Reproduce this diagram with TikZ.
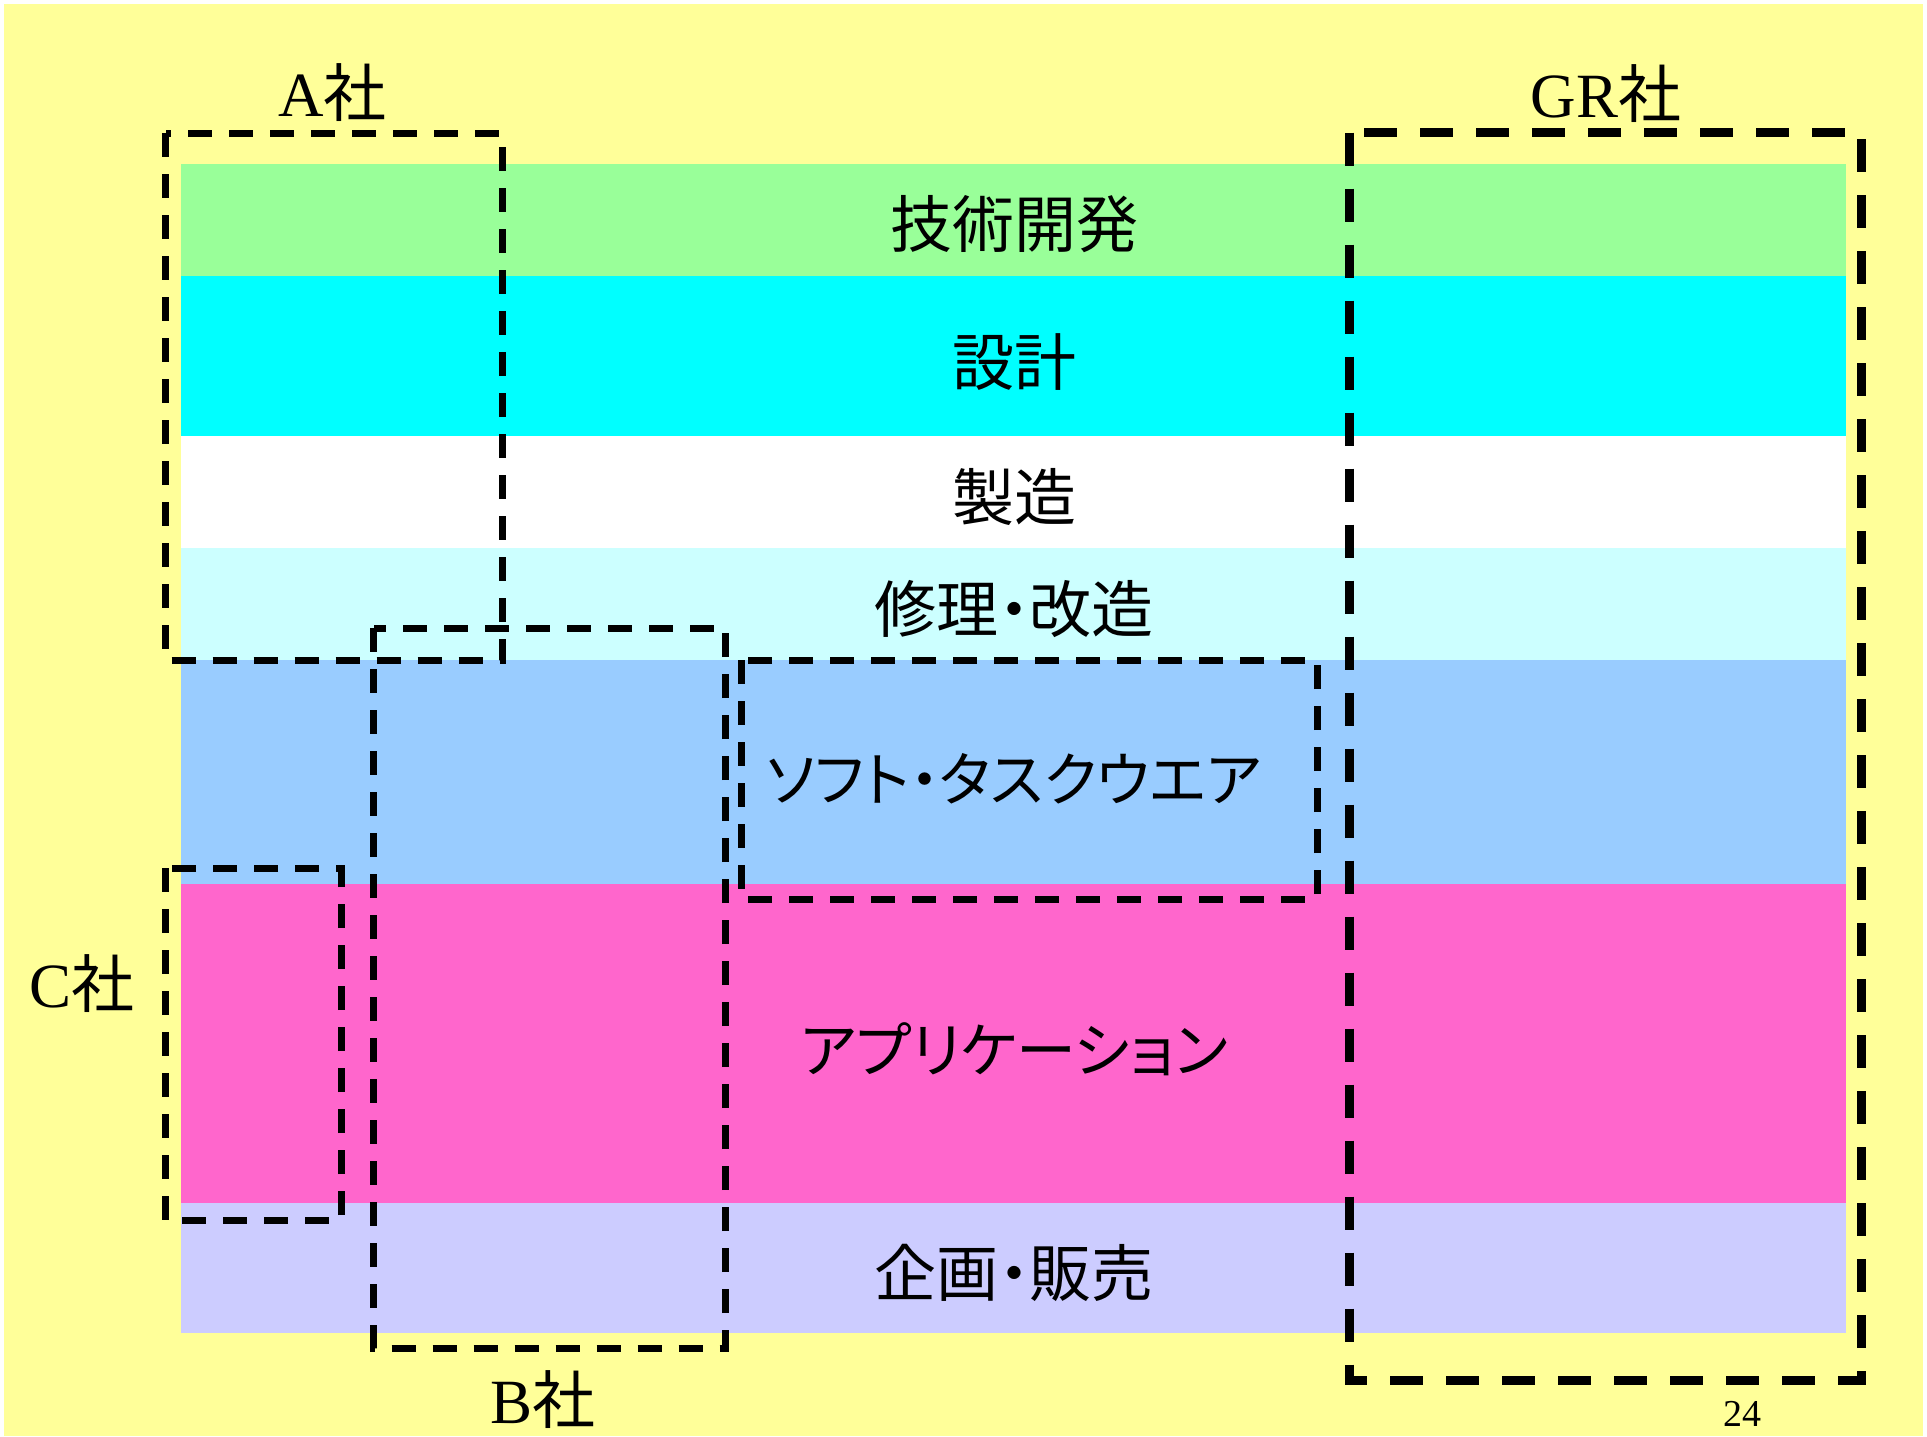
\documentclass[tikz,border=0pt]{standalone}
\usepackage{fontspec}
\setmainfont{Liberation Serif}
\newfontfamily\cjk[RawFeature={+palt}]{Noto Sans CJK JP}
\definecolor{bgyellow}{HTML}{FFFF99}
\definecolor{bandgreen}{HTML}{99FF99}
\definecolor{bandcyan}{HTML}{00FFFF}
\definecolor{bandlcyan}{HTML}{CCFFFF}
\definecolor{bandblue}{HTML}{99CCFF}
\definecolor{bandpink}{HTML}{FF66CC}
\definecolor{bandlav}{HTML}{CCCCFF}
\tikzset{
  bandtext/.style={inner sep=0pt, anchor=center, font=\cjk\fontsize{62}{70}\selectfont},
  katatext/.style={inner sep=0pt, anchor=center, font=\cjk\fontsize{#1}{70}\selectfont},
  comptext/.style={inner sep=0pt, anchor=base, font=\fontsize{63}{70}\selectfont},
  thinbox/.style={draw=black, line width=7pt, dash pattern=on 24pt off 17pt},
  thickbox/.style={draw=black, line width=9pt, dash pattern=on 33pt off 23pt},
}
\begin{document}
\begin{tikzpicture}[x=1pt,y=-1pt]
\useasboundingbox (0,0) rectangle (1927,1436);
\fill[white] (0,0) rectangle (1927,1436);
\fill[bgyellow] (4,4) rectangle (1923,1436);
% bands
\fill[bandgreen] (180.7,163.5) rectangle (1846,275.5);
\fill[bandcyan]  (180.7,275.5) rectangle (1846,435.5);
\fill[white]     (180.7,435.5) rectangle (1846,547.5);
\fill[bandlcyan] (180.7,547.5) rectangle (1846,660);
\fill[bandblue]  (180.7,660)   rectangle (1846,884);
\fill[bandpink]  (180.7,884)   rectangle (1846,1203);
\fill[bandlav]   (180.7,1203)  rectangle (1846,1332.5);
% band labels
\node[bandtext] (t1) at (1014,224) {技術開発};
\node[bandtext] (t2) at (1014,362) {設計};
\node[bandtext] (t3) at (1014,497) {製造};
\node[bandtext] (t4) at (1014,609) {修理・改造};
\node[katatext=59] (t5) at (1014,779) {ソフト・タスクウエア};
\node[katatext=60] (t6) at (1014,1049) {アプリケーション};
\node[bandtext] (t7) at (1014,1273) {企画・販売};
% company boxes
\draw[thinbox] (165.5,133) rectangle (502,660);
\draw[thinbox] (373.5,628) rectangle (725.5,1348);
\draw[thinbox] (165,868) rectangle (341,1220);
\draw[thinbox] (741,660) rectangle (1317,899);
\draw[thickbox] (1349.5,132.5) rectangle (1861.5,1380);
% company labels
\node[comptext] (la) at (332.6,116) {A{\cjk 社}};
\node[comptext] (lgr) at (1606,117) {GR{\cjk 社}};
\node[comptext] (lc) at (81.6,1007.5) {C{\cjk 社}};
\node[comptext] (lb) at (543,1423) {B{\cjk 社}};
\node[inner sep=0pt, anchor=base, font=\fontsize{38}{44}\selectfont] (pg) at (1742,1426) {24};
\end{tikzpicture}
\end{document}
